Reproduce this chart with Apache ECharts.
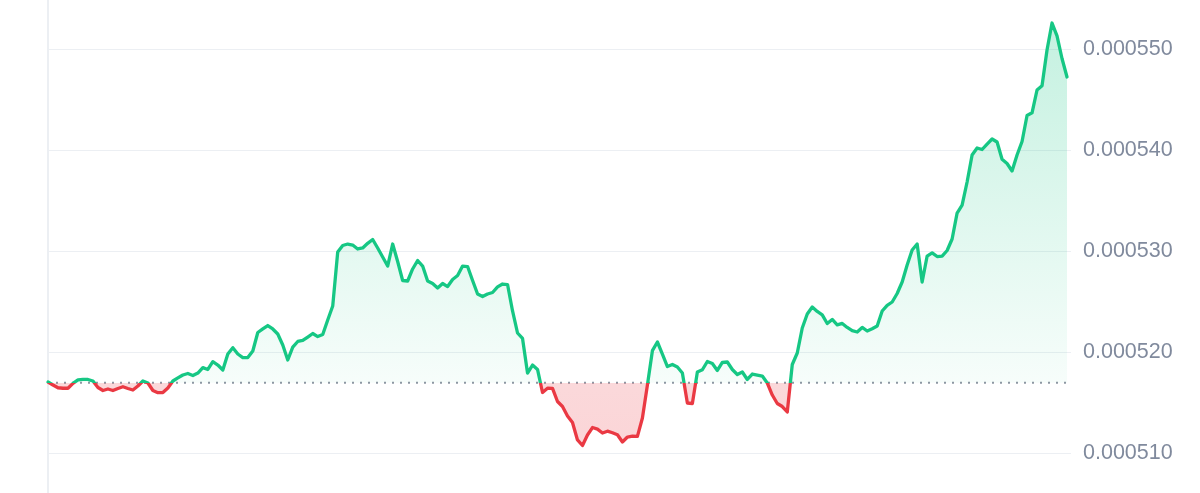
<!DOCTYPE html>
<html>
<head>
<meta charset="utf-8">
<script src="https://cdn.jsdelivr.net/npm/echarts@6/dist/echarts.min.js"></script>
<style>
html,body{margin:0;padding:0;background:#ffffff;}
#chart{width:1200px;height:493px;}
</style>
</head>
<body>
<div id="chart"></div>
<script>
// Price series, evenly spaced in time
const prices = [
0.00051708,0.00051678,0.00051651,0.00051646,0.00051646,0.00051695,0.00051728,0.00051733,0.00051733,0.00051718,
0.00051653,0.00051624,0.00051639,0.00051624,0.00051644,0.00051661,0.00051644,0.00051629,0.00051668,0.00051718,
0.00051698,0.00051624,0.00051602,0.00051604,0.00051649,0.00051718,0.00051748,0.00051777,0.00051792,0.00051772,
0.00051797,0.00051850,0.00051832,0.00051909,0.00051876,0.00051827,0.00051985,0.00052048,0.00051985,0.00051950,
0.00051950,0.00052015,0.00052198,0.00052233,0.00052267,0.00052233,0.00052183,0.00052074,0.00051926,0.00052054,
0.00052109,0.00052119,0.00052153,0.00052188,0.00052158,0.00052178,0.00052322,0.00052460,0.00052995,0.00053059,
0.00053074,0.00053064,0.00053025,0.00053035,0.00053081,0.00053119,0.00053035,0.00052946,0.00052856,0.00053074,
0.00052901,0.00052713,0.00052708,0.00052827,0.00052911,0.00052856,0.00052708,0.00052683,0.00052639,0.00052683,
0.00052653,0.00052723,0.00052762,0.00052856,0.00052851,0.00052713,0.00052579,0.00052554,0.00052579,0.00052594,
0.00052649,0.00052678,0.00052673,0.00052411,0.00052193,0.00052139,0.00051797,0.00051876,0.00051832,0.00051604,
0.00051646,0.00051644,0.00051515,0.00051465,0.00051371,0.00051307,0.00051134,0.00051079,0.00051183,0.00051257,
0.00051241,0.00051203,0.00051221,0.00051205,0.00051185,0.00051114,0.00051163,0.00051171,0.00051169,0.00051351,
0.00051678,0.00052018,0.00052104,0.00051985,0.00051861,0.00051881,0.00051856,0.00051797,0.00051500,0.00051495,
0.00051807,0.00051829,0.00051911,0.00051891,0.00051822,0.00051901,0.00051906,0.00051832,0.00051782,0.00051807,
0.00051733,0.00051787,0.00051777,0.00051767,0.00051698,0.00051579,0.00051495,0.00051465,0.00051411,0.00051881,
0.00051995,0.00052243,0.00052381,0.00052450,0.00052406,0.00052373,0.00052287,0.00052327,0.00052274,0.00052288,
0.00052248,0.00052216,0.00052203,0.00052248,0.00052213,0.00052235,0.00052262,0.00052411,0.00052467,0.00052500,
0.00052584,0.00052698,0.00052866,0.00053015,0.00053074,0.00052698,0.00052955,0.00052987,0.00052950,0.00052955,
0.00053010,0.00053124,0.00053381,0.00053460,0.00053688,0.00053955,0.00054025,0.00054010,0.00054064,0.00054114,
0.00054084,0.00053913,0.00053871,0.00053797,0.00053955,0.00054089,0.00054347,0.00054373,0.00054599,0.00054641,
0.00054995,0.00055262,0.00055134,0.00054911,0.00054728
];
// Reference (opening) price drawn as the dotted baseline
const baseline = 0.000517;
// Y-axis tick values shown on the right
const yTicks = [0.000510, 0.000520, 0.000530, 0.000540, 0.000550];

const GREEN = '#16c784';
const RED = '#ea3943';

const pMax = Math.max(...prices);
const pMin = Math.min(...prices);
const stop = (pMax - baseline) / (pMax - pMin);

const chart = echarts.init(document.getElementById('chart'), null, {renderer: 'canvas'});

const tickStep = yTicks[1] - yTicks[0];
const labelMin = yTicks[0];
const labelMax = yTicks[yTicks.length - 1];
// full-height data axis extent, consistent with the labelled grid (top 49.5, bottom 39.5 of 493)
const pxPerUnit = (493 - 49.5 - 39.5) / (labelMax - labelMin);
const dataMax = labelMax + 49.5 / pxPerUnit;
const dataMin = labelMin - 39.5 / pxPerUnit;

const option = {
  backgroundColor: '#ffffff',
  animation: false,
  grid: [
    {left: 47, right: 129, top: 0, bottom: 0},
    {left: 47, right: 129, top: 49.5, bottom: 39.5}
  ],
  xAxis: [
    {gridIndex: 0, type: 'value', min: -0.2, max: prices.length - 0.2, show: false},
    {gridIndex: 1, type: 'value', min: 0, max: 1, show: false}
  ],
  yAxis: [
    {gridIndex: 0, type: 'value', position: 'right', min: dataMin, max: dataMax,
     axisLine: {show: true, lineStyle: {color: '#eceff3', width: 1}},
     axisTick: {show: false}, axisLabel: {show: false}, splitLine: {show: false}},
    {gridIndex: 0, type: 'value', position: 'left', min: dataMin, max: dataMax,
     axisLine: {show: true, onZero: false, lineStyle: {color: '#eceff3', width: 1}},
     axisTick: {show: false}, axisLabel: {show: false}, splitLine: {show: false}},
    {gridIndex: 1, type: 'value', position: 'right', min: labelMin, max: labelMax, interval: tickStep,
     axisLine: {show: false}, axisTick: {show: false},
     axisLabel: {show: true, margin: 12, color: '#808a9d', fontSize: 21.5,
       fontFamily: '"Liberation Sans", Arial, sans-serif',
       formatter: v => v.toFixed(6)},
     splitLine: {show: true, lineStyle: {color: '#eceff3', width: 1}}}
  ],
  visualMap: {
    type: 'piecewise', show: false, seriesIndex: 1, dimension: 1,
    pieces: [
      {gte: 0.0004, lte: baseline, color: RED},
      {gt: baseline, lte: 0.0007, color: GREEN}
    ],
    outOfRange: {color: GREEN}
  },
  series: [
    {
      type: 'line',
      xAxisIndex: 0, yAxisIndex: 0,
      data: [[0, baseline], [prices.length - 1, baseline]],
      symbol: 'none',
      silent: true,
      lineStyle: {color: '#8f96a3', type: [2, 6], width: 2},
      z: 2
    },
    {
      type: 'line',
      xAxisIndex: 0, yAxisIndex: 0,
      data: prices.map((v, i) => [i, v]),
      symbol: 'none',
      smooth: false,
      lineStyle: {width: 3.3, join: 'round', cap: 'round'},
      areaStyle: {
        origin: baseline,
        color: new echarts.graphic.LinearGradient(0, 0, 0, 1, [
          {offset: 0, color: 'rgba(22,199,132,0.36)'},
          {offset: stop, color: 'rgba(22,199,132,0.05)'},
          {offset: stop, color: 'rgba(234,57,67,0.28)'},
          {offset: 1, color: 'rgba(234,57,67,0.3)'}
        ])
      },
      z: 3
    }
  ]
};
chart.setOption(option);
</script>
</body>
</html>
